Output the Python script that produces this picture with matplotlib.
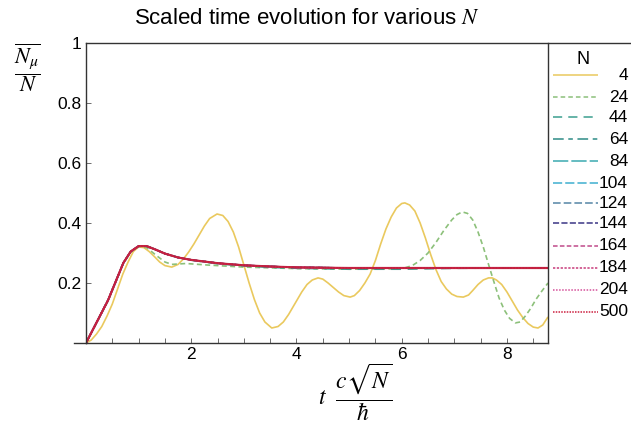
import matplotlib
matplotlib.use("Agg")
import matplotlib.pyplot as plt
from matplotlib.lines import Line2D

plt.rcParams.update({
    "font.family": "Liberation Sans",
    "mathtext.fontset": "stix",
    "font.size": 12.5,
})

W, H = 631, 422

# ── data ──────────────────────────────────────────────────────────────────
n_values = [4, 24, 44, 64, 84, 104, 124, 144, 164, 184, 204, 500]

t_n4 = [0.0, 0.1, 0.2, 0.3, 0.4, 0.5, 0.6, 0.7, 0.8, 0.9, 1.0, 1.1, 1.2, 1.3,
        1.4, 1.5, 1.63, 1.75, 1.85, 1.95, 2.05, 2.15, 2.25, 2.35, 2.49, 2.6,
        2.7, 2.8, 2.9, 3.0, 3.1, 3.2, 3.3, 3.4, 3.53, 3.65, 3.75, 3.85, 4.0,
        4.1, 4.2, 4.3, 4.41, 4.5, 4.6, 4.7, 4.8, 4.9, 5.02, 5.1, 5.2, 5.3,
        5.4, 5.5, 5.6, 5.7, 5.8, 5.9, 6.0, 6.06, 6.15, 6.25, 6.35, 6.45,
        6.55, 6.65, 6.75, 6.85, 6.95, 7.05, 7.17, 7.27, 7.35, 7.45, 7.55,
        7.65, 7.72, 7.8, 7.9, 8.0, 8.1, 8.2, 8.3, 8.4, 8.5, 8.59, 8.68, 8.78]
y_n4 = [0.0, 0.01, 0.03, 0.055, 0.09, 0.13, 0.18, 0.23, 0.27, 0.305, 0.32,
        0.318, 0.305, 0.288, 0.27, 0.258, 0.253, 0.262, 0.28, 0.303, 0.33,
        0.36, 0.39, 0.415, 0.43, 0.425, 0.405, 0.37, 0.32, 0.26, 0.2, 0.145,
        0.1, 0.07, 0.05, 0.055, 0.07, 0.095, 0.14, 0.17, 0.195, 0.21, 0.217,
        0.213, 0.2, 0.185, 0.17, 0.158, 0.153, 0.158, 0.175, 0.2, 0.23,
        0.275, 0.33, 0.38, 0.42, 0.45, 0.465, 0.467, 0.46, 0.44, 0.4, 0.35,
        0.295, 0.245, 0.205, 0.18, 0.163, 0.155, 0.153, 0.16, 0.175, 0.195,
        0.21, 0.217, 0.217, 0.21, 0.195, 0.17, 0.14, 0.11, 0.085, 0.065,
        0.053, 0.05, 0.06, 0.087]

t_n24 = [0.0, 0.42, 0.71, 0.85, 1.0, 1.15, 1.35, 1.5, 1.63, 1.9, 2.3, 3.0,
         4.0, 5.0, 5.8, 6.05, 6.2, 6.35, 6.5, 6.65, 6.8, 6.95, 7.05, 7.15,
         7.25, 7.35, 7.45, 7.55, 7.65, 7.75, 7.85, 7.95, 8.05, 8.16, 8.25,
         8.35, 8.45, 8.55, 8.65, 8.78]
y_n24 = [0.0, 0.14, 0.265, 0.303, 0.322, 0.318, 0.29, 0.27, 0.262, 0.265,
         0.26, 0.253, 0.248, 0.246, 0.247, 0.25, 0.258, 0.275, 0.3, 0.335,
         0.375, 0.41, 0.428, 0.437, 0.432, 0.41, 0.37, 0.32, 0.262, 0.205,
         0.15, 0.11, 0.082, 0.067, 0.07, 0.09, 0.115, 0.145, 0.17, 0.2]

t_n44 = [0.0, 0.42, 0.71, 0.85, 1.0, 1.15, 1.3, 1.5, 1.75, 2.0, 2.5, 3.0,
         3.5, 4.0, 5.0, 6.0, 7.0, 8.0, 8.78]
y_n44 = [0.0, 0.143, 0.267, 0.305, 0.323, 0.323, 0.313, 0.298, 0.285, 0.276,
         0.264, 0.257, 0.252, 0.249, 0.246, 0.246, 0.249, 0.25, 0.25]

# N >= 64 curves all lie on top of each other
t_large = [0.0, 0.42, 0.71, 0.85, 1.0, 1.15, 1.3, 1.5, 1.75, 2.0, 2.5, 3.0,
           3.5, 4.0, 5.0, 6.0, 7.0, 8.0, 8.78]
y_large = [0.0, 0.143, 0.267, 0.305, 0.323, 0.323, 0.313, 0.298, 0.285,
           0.277, 0.266, 0.259, 0.255, 0.252, 0.25, 0.25, 0.25, 0.25, 0.25]

series_t = [t_n4, t_n24, t_n44] + [t_large] * 9
series_y = [y_n4, y_n24, y_n44] + [y_large] * 9

# ── styles ────────────────────────────────────────────────────────────────
STYLES = [
    ("#eac95e", (0, ())),
    ("#8cc07a", (0, (3, 2))),
    ("#3c9f8f", (0, (6, 4))),
    ("#2e8b86", (0, (7, 3, 3, 3))),
    ("#3aa9b0", (0, (10, 2))),
    ("#3fafd0", (0, (6, 2))),
    ("#5585a5", (0, (5, 2))),
    ("#3a3585", (0, (4, 1.5))),
    ("#c04a8a", (0, (3, 1.5))),
    ("#c83a7a", (0, (1.5, 1))),
    ("#d5509a", (0, (1, 1))),
    ("#cc2040", (0, (1, 0.8))),
]

fig = plt.figure(figsize=(W / 100, H / 100), dpi=100)
ax = fig.add_axes([86 / W, (H - 343) / H, (548 - 86) / W, 300 / H])

for i, (t, y, (c, ls)) in enumerate(zip(series_t, series_y, STYLES)):
    ax.plot(t, y, color=c, ls=ls, lw=1.2)
# the overlapping large-N bundle reads as one solid crimson line
ax.plot(t_large, y_large, color="#c41e3a", lw=1.6, alpha=0.85)

ax.set_xlim(0, 8.78)
ax.set_ylim(0, 1)
ax.set_xticks([2, 4, 6, 8])
ax.set_xticks([0.5, 1, 1.5, 2.5, 3, 3.5, 4.5, 5, 5.5, 6.5, 7, 7.5, 8.5],
              minor=True)
ax.set_yticks([0.2, 0.4, 0.6, 0.8, 1.0])
ax.set_yticklabels(["0.2", "0.4", "0.6", "0.8", "1"])
ax.tick_params(which="both", direction="in", length=3.5, width=0.6,
               colors="#555555", labelcolor="black", labelsize=12.5)
ax.tick_params(axis="x", pad=3)
for s in ("left", "bottom", "right"):
    ax.spines[s].set_linewidth(1.0)
    ax.spines[s].set_color("#333333")
ax.spines["top"].set_visible(False)

# top frame line running across plot and legend, and short x-axis extension
fig.add_artist(Line2D([86 / W, 1.0], [(H - 43) / H] * 2, color="#333333",
                      lw=1.0))
fig.add_artist(Line2D([74 / W, 86 / W], [(H - 343) / H] * 2,
                      color="#333333", lw=1.0))

fig.text(307 / W, (H - 18) / H, r"Scaled time evolution for various $N$",
         ha="center", va="center", fontsize=16)
fig.text(27 / W, (H - 68) / H, r"$\dfrac{\overline{N_\mu}}{N}$",
         ha="center", va="center", fontsize=16)
fig.text(355 / W, (H - 392) / H, r"$t\ \ \dfrac{c\sqrt{N}}{\hbar}$",
         ha="center", va="center", fontsize=17)

# legend drawn by hand in the strip right of the plot
fig.text(583 / W, (H - 60) / H, "N", ha="center", va="center", fontsize=13)
row_y = [75, 97, 117, 139, 161, 183, 203, 223, 246, 268, 290, 312]
for ry, n, (c, ls) in zip(row_y, n_values, STYLES):
    yy = (H - ry) / H
    fig.add_artist(Line2D([553 / W, 598 / W], [yy, yy], color=c, ls=ls,
                          lw=1.1))
    fig.text(628 / W, yy, str(n), ha="right", va="center", fontsize=12.5)

fig.savefig("out.png", dpi=100)
